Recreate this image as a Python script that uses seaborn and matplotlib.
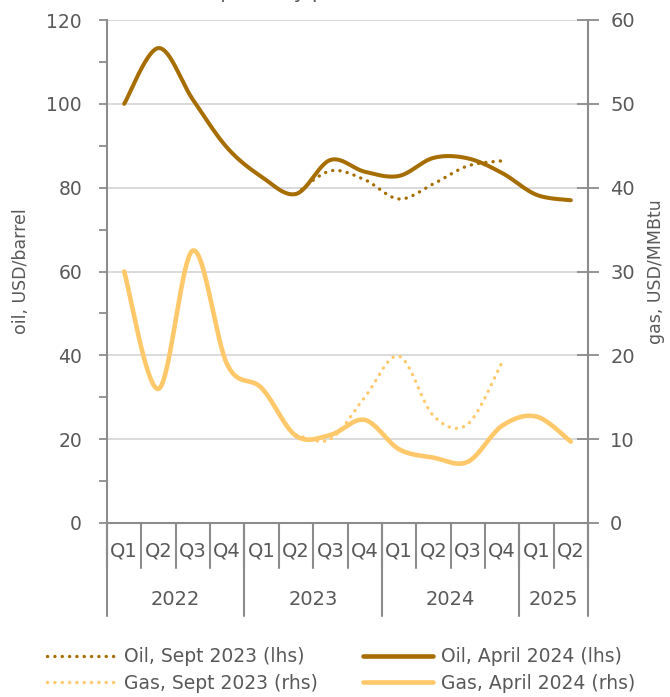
import numpy as np
import pandas as pd
import matplotlib
matplotlib.use("Agg")
import matplotlib.pyplot as plt
import matplotlib.transforms as mtransforms
from matplotlib.lines import Line2D
import seaborn as sns

# ---------------- data ----------------
quarters = ["Q1", "Q2", "Q3", "Q4", "Q1", "Q2", "Q3", "Q4",
            "Q1", "Q2", "Q3", "Q4", "Q1", "Q2"]
years = ["2022", "2023", "2024", "2025"]
year_spans = [4, 4, 4, 2]

oil_apr2024 = [100, 113.3, 101, 89.5, 82.6, 78.5, 86.6, 83.8,
               82.8, 87.1, 87.0, 83.5, 78.3, 77.0]
gas_apr2024 = [30.0, 16.0, 32.5, 18.9, 16.1, 10.4, 10.5, 12.3,
               8.8, 7.8, 7.3, 11.6, 12.7, 9.7]
sept_start = 5  # Q2 2023
oil_sep2023 = [78.5, 84.0, 81.9, 77.3, 80.9, 85.2, 86.4]
gas_sep2023 = [10.5, 10.0, 15.0, 19.9, 12.8, 11.8, 19.2]

labels = ["Oil, Sept 2023 (lhs)", "Gas, Sept 2023 (rhs)",
          "Oil, April 2024 (lhs)", "Gas, April 2024 (rhs)"]
title = "quarterly price forecasts"

OIL = "#A66D00"
GAS = "#FFC96B"
TXT = "#595959"
SPINE = "#8C8C8C"
GRID = "#D4D4D4"


def smooth(xs, ys, n=40):
    """Excel-like smoothed line (Catmull-Rom Bezier) through the points."""
    P = np.column_stack([xs, ys]).astype(float)
    out = []
    m = len(P)
    for i in range(m - 1):
        p0 = P[i - 1] if i > 0 else P[i]
        p3 = P[i + 2] if i + 2 < m else P[i + 1]
        c1 = P[i] + (P[i + 1] - p0) / 6.0
        c2 = P[i + 1] - (p3 - P[i]) / 6.0
        t = np.linspace(0, 1, n, endpoint=(i == m - 2))[:, None]
        seg = ((1 - t) ** 3) * P[i] + 3 * ((1 - t) ** 2) * t * c1 \
            + 3 * (1 - t) * t ** 2 * c2 + t ** 3 * P[i + 1]
        out.append(seg)
    arr = np.vstack(out)
    return pd.DataFrame({"x": arr[:, 0], "y": arr[:, 1]})


sns.set_style("white")
plt.rcParams["font.family"] = ["DejaVu Sans"]

fig = plt.figure(figsize=(6.70, 6.97), dpi=100)
ax = fig.add_axes([107 / 670, 1 - 523 / 697, (588 - 107) / 670, 503 / 697])
ax2 = ax.twinx()

x_all = np.arange(len(quarters))
x_sep = np.arange(sept_start, sept_start + len(oil_sep2023))

lw_dot = 2.4
dot = (0, (0.05, 2.15))

d = smooth(x_sep, oil_sep2023)
sns.lineplot(data=d, x="x", y="y", ax=ax, sort=False, estimator=None,
             color=OIL, lw=lw_dot, linestyle=dot, dash_capstyle="round")
d = smooth(x_all, oil_apr2024)
sns.lineplot(data=d, x="x", y="y", ax=ax, sort=False, estimator=None,
             color=OIL, lw=2.9, solid_capstyle="round")
d = smooth(x_sep, gas_sep2023)
sns.lineplot(data=d, x="x", y="y", ax=ax2, sort=False, estimator=None,
             color=GAS, lw=lw_dot, linestyle=dot, dash_capstyle="round")
d = smooth(x_all, gas_apr2024)
sns.lineplot(data=d, x="x", y="y", ax=ax2, sort=False, estimator=None,
             color=GAS, lw=3.3, solid_capstyle="round")

# axes limits / ticks
ax.set_xlim(-0.5, len(quarters) - 0.5)
ax.set_ylim(0, 120)
ax2.set_ylim(0, 60)
ax.set_yticks(np.arange(0, 121, 20))
ax.set_yticks(np.arange(10, 120, 20), minor=True)
ax2.set_yticks(np.arange(0, 61, 10))
ax.set_xticks([])
ax2.set_xticks([])

ax.grid(axis="y", color=GRID, lw=1.2)
ax.set_axisbelow(True)
ax2.grid(False)

for a in (ax, ax2):
    a.spines["top"].set_visible(False)
    for s in ("left", "right", "bottom"):
        a.spines[s].set_color(SPINE)
        a.spines[s].set_linewidth(1.5)
ax.spines["right"].set_visible(False)
ax2.spines["left"].set_visible(False)
ax2.spines["bottom"].set_visible(False)

ax.tick_params(axis="y", which="both", direction="out", length=6, width=1.3,
               color=SPINE, labelsize=13.5, labelcolor=TXT, pad=12, left=True)
ax2.tick_params(axis="y", which="both", direction="inout", length=16, width=1.3,
                color=SPINE, labelsize=14, labelcolor=TXT, pad=8, right=True)

ax.set_xlabel("")
ax2.set_xlabel("")
ax.set_ylabel("oil, USD/barrel", fontsize=12.5, color=TXT, labelpad=12)
ax2.set_ylabel("gas, USD/MMBtu", fontsize=12.5, color=TXT, labelpad=9,
               rotation=90)

# two-level category axis
tr = mtransforms.blended_transform_factory(ax.transData, ax.transAxes)
for k in range(len(quarters) + 1):
    ax.plot([k - 0.5, k - 0.5], [0, -0.09], transform=tr, color=SPINE,
            lw=1.5, clip_on=False)
for i, q in enumerate(quarters):
    ax.text(i, -0.056, q, transform=tr, ha="center", va="center",
            fontsize=14, color=TXT)
edges = np.concatenate([[0], np.cumsum(year_spans)]) - 0.5
for e in edges:
    ax.plot([e, e], [0, -0.184], transform=tr, color=SPINE, lw=1.5,
            clip_on=False)
for j, y in enumerate(years):
    ax.text((edges[j] + edges[j + 1]) / 2, -0.153, y, transform=tr,
            ha="center", va="center", fontsize=14, color=TXT)

# title (cut at the top edge as in the reference)
fig.text(337 / 670, 1 + 2 / 697, title, ha="center", va="baseline",
         fontsize=14.5, color=TXT)

# legend
handles = [
    Line2D([], [], color=OIL, lw=lw_dot, linestyle=dot, dash_capstyle="round"),
    Line2D([], [], color=GAS, lw=lw_dot, linestyle=dot, dash_capstyle="round"),
    Line2D([], [], color=OIL, lw=3.3),
    Line2D([], [], color=GAS, lw=3.3),
]
leg = fig.legend(handles, labels, ncol=2, loc="center",
                 bbox_to_anchor=(341 / 670, 1 - 670 / 697), frameon=False,
                 fontsize=13.5, handlelength=3.7, handletextpad=0.45,
                 columnspacing=2.4, labelspacing=0.4)
for t in leg.get_texts():
    t.set_color(TXT)

fig.savefig("out.png", dpi=100)
